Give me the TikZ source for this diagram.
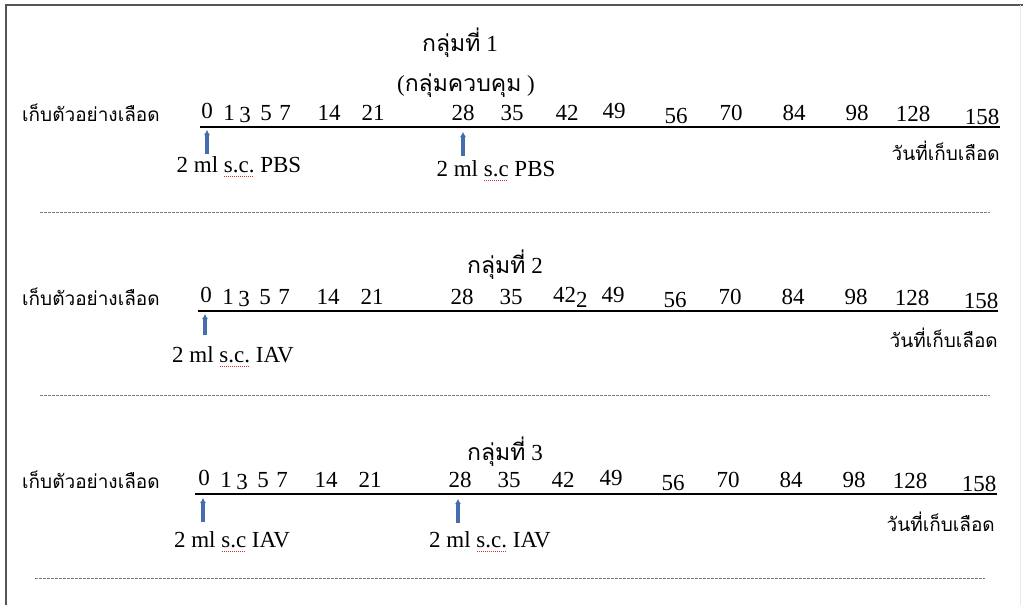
\documentclass[tikz,border=0pt]{standalone}
\usepackage{fontspec}
\setmainfont{Liberation Serif}
\newfontfamily\thai[Script=Thai]{Loma}
\usetikzlibrary{arrows.meta}
\definecolor{framecol}{RGB}{85,85,85}
\definecolor{dosecol}{RGB}{70,110,175}
\definecolor{spellcol}{RGB}{205,50,50}
\definecolor{sepcol}{RGB}{125,125,125}
% red dotted spelling underline under a word
\newcommand\sq[1]{\setbox0\hbox{#1}\rlap{\raisebox{-4pt}{\color{spellcol}\leaders\hbox to 2pt{\hss\rule{1pt}{0.8pt}\hss}\hskip\wd0}}\box0\relax}
\begin{document}
\begin{tikzpicture}[x=1pt,y=-1pt,
  every node/.style={inner sep=0pt},
  latin/.style={font=\fontsize{23}{27}\selectfont},
  num/.style={latin},
  thaitext/.style={font=\fontsize{19}{23}\selectfont\thai},
  axis/.style={draw=black, line width=1.6pt},
  dose/.style={draw=dosecol, line width=3.2pt, -{Latex[length=5pt,width=6pt]}},
  sep/.style={draw=sepcol, line width=0.8pt, dash pattern=on 2.5pt off 1.5pt},
  frame/.style={draw=framecol, line width=2.5pt}]
\useasboundingbox (0,0) rectangle (1023,605);

% outer frame
\draw[frame] (6,605) -- (6,5) -- (1023,5);
\draw[gray!18, line width=1pt] (1020,5) -- (1020,605);

% sampling days on each time line
\foreach \g/\yy/\sx in {1/113/0, 2/297/-1, 3/480/-3}{
  \foreach \v/\x/\dy in {0/207/-2, 1/229/0, 3/245/2, 5/266/0, 7/285/0,
      14/329/0, 21/373/0, 28/463/0, 35/512/0, 49/614/-2,
      56/676/3, 70/731/0, 84/794/0, 98/857/0, 128/913/1, 158/982/4}{
    \node[num] (g\g n\v) at (\x+\sx,\yy+\dy) {\v};
  }
  \node[thaitext, anchor=west] (g\g lab) at (22,\yy) {เก็บตัวอย่างเลือด};
}
\node[num] (g1n42) at (567,113) {42};
\node[num, anchor=west] (g2n42) at (553,297) {42\raisebox{-5pt}{2}};
\node[num] (g3n42) at (563,480) {42};

% group 1
\node[latin] (g1title) at (460,43) {{\thai กลุ่มที่}~1};
\node[latin] (g1sub) at (466,86) {({\thai กลุ่มควบคุม} )};
\coordinate (g1L) at (200,127);
\coordinate (g1R) at (1000,127);
\draw[axis] (g1L) -- (g1R);
\coordinate (g1d0b) at (207,154);
\coordinate (g1d0t) at (207,130);
\coordinate (g1d1b) at (463,156);
\coordinate (g1d1t) at (463,132);
\draw[dose] (g1d0b) -- (g1d0t);
\draw[dose] (g1d1b) -- (g1d1t);
\node[latin] (g1dose0) at (239,167) {2 ml \sq{s.c.} PBS};
\node[latin] (g1dose1) at (496,171) {2 ml \sq{s.c} PBS};
\node[thaitext, anchor=east] (g1day) at (1000,151) {วันที่เก็บเลือด};
\coordinate (g1sL) at (40,212);
\coordinate (g1sR) at (990,212);
\draw[sep] (g1sL) -- (g1sR);

% group 2
\node[latin] (g2title) at (505,265) {{\thai กลุ่มที่}~2};
\coordinate (g2L) at (198,311);
\coordinate (g2R) at (998,311);
\draw[axis] (g2L) -- (g2R);
\coordinate (g2d0b) at (205,335);
\coordinate (g2d0t) at (205,314);
\draw[dose] (g2d0b) -- (g2d0t);
\node[latin] (g2dose0) at (233,357) {2 ml \sq{s.c.} IAV};
\node[thaitext, anchor=east] (g2day) at (998,338) {วันที่เก็บเลือด};
\coordinate (g2sL) at (40,395);
\coordinate (g2sR) at (990,395);
\draw[sep] (g2sL) -- (g2sR);

% group 3
\node[latin] (g3title) at (505,452) {{\thai กลุ่มที่}~3};
\coordinate (g3L) at (195,494);
\coordinate (g3R) at (997,494);
\draw[axis] (g3L) -- (g3R);
\coordinate (g3d0b) at (203,522);
\coordinate (g3d0t) at (203,498);
\coordinate (g3d1b) at (458,523);
\coordinate (g3d1t) at (458,499);
\draw[dose] (g3d0b) -- (g3d0t);
\draw[dose] (g3d1b) -- (g3d1t);
\node[latin] (g3dose0) at (232,542) {2 ml \sq{s.c} IAV};
\node[latin] (g3dose1) at (490,542) {2 ml \sq{s.c.} IAV};
\node[thaitext, anchor=east] (g3day) at (995,522) {วันที่เก็บเลือด};
\coordinate (g3sL) at (35,578);
\coordinate (g3sR) at (985,578);
\draw[sep] (g3sL) -- (g3sR);
\end{tikzpicture}
\end{document}
